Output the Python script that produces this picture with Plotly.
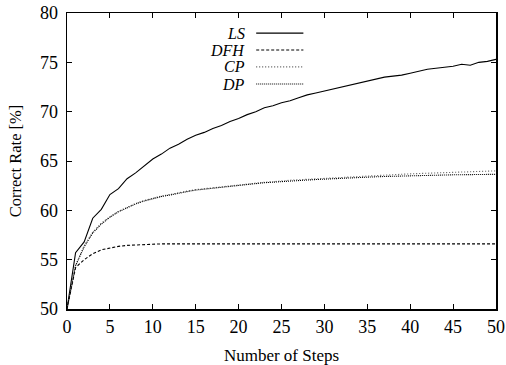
import plotly.graph_objects as go

steps = list(range(0, 51))
ls = [50.0, 55.7, 56.8, 59.2, 60.1, 61.6, 62.2, 63.2, 63.8, 64.5,
      65.2, 65.7, 66.3, 66.7, 67.2, 67.6, 67.9, 68.3, 68.6, 69.0,
      69.3, 69.7, 70.0, 70.4, 70.6, 70.9, 71.1, 71.4, 71.7, 71.9,
      72.1, 72.3, 72.5, 72.7, 72.9, 73.1, 73.3, 73.5, 73.6, 73.7,
      73.9, 74.1, 74.3, 74.4, 74.5, 74.6, 74.8, 74.7, 75.0, 75.1, 75.3]
dfh = [50.0, 54.2, 55.0, 55.6, 56.0, 56.2, 56.35, 56.45, 56.5, 56.55,
       56.58, 56.6, 56.6, 56.6, 56.6, 56.6, 56.6, 56.6, 56.6, 56.6,
       56.6, 56.6, 56.6, 56.6, 56.6, 56.6, 56.6, 56.6, 56.6, 56.6,
       56.6, 56.6, 56.6, 56.6, 56.6, 56.6, 56.6, 56.6, 56.6, 56.6,
       56.6, 56.6, 56.6, 56.6, 56.6, 56.6, 56.6, 56.6, 56.6, 56.6, 56.6]
cp = [50.0, 54.4, 56.4, 57.8, 58.7, 59.35, 59.9, 60.3, 60.7, 61.0,
      61.25, 61.45, 61.6, 61.8, 61.95, 62.1, 62.2, 62.3, 62.4, 62.5,
      62.6, 62.7, 62.75, 62.85, 62.9, 63.0, 63.05, 63.1, 63.15, 63.2,
      63.25, 63.3, 63.35, 63.4, 63.45, 63.5, 63.55, 63.6, 63.63, 63.67,
      63.7, 63.73, 63.76, 63.79, 63.82, 63.85, 63.88, 63.91, 63.94, 63.97, 64.0]
dp = [50.0, 54.4, 56.3, 57.7, 58.6, 59.3, 59.85, 60.25, 60.65, 60.95,
      61.2, 61.4, 61.55, 61.75, 61.9, 62.05, 62.15, 62.25, 62.35, 62.45,
      62.55, 62.65, 62.7, 62.8, 62.85, 62.92, 62.97, 63.02, 63.07, 63.12,
      63.17, 63.21, 63.25, 63.29, 63.33, 63.37, 63.4, 63.43, 63.46, 63.48,
      63.5, 63.52, 63.54, 63.56, 63.58, 63.6, 63.61, 63.62, 63.63, 63.64, 63.65]

series_names = ["LS", "DFH", "CP", "DP"]
series_data = [ls, dfh, cp, dp]
dashes = ["solid", "3px,2px", "1px,2px", "1px,1px"]
colors = ["#000000", "#000000", "#555555", "#000000"]

x_ticks = [0, 5, 10, 15, 20, 25, 30, 35, 40, 45, 50]
y_ticks = [50, 55, 60, 65, 70, 75, 80]

FONT = "Liberation Serif, Times New Roman, serif"

fig = go.Figure()
for name, ys, d, c in zip(series_names, series_data, dashes, colors):
    fig.add_trace(go.Scatter(x=steps, y=ys, mode="lines", name=name,
                             line=dict(color=c, width=1.1, dash=d),
                             showlegend=False, hoverinfo="skip"))

# legend drawn manually (text on left, sample line on right)
leg_y = [0.932, 0.875, 0.818, 0.760]
for name, yy, d, c in zip(series_names, leg_y, dashes, colors):
    fig.add_annotation(x=0.42, y=yy, xref="paper", yref="paper",
                       text="<i>%s</i>" % name, showarrow=False,
                       xanchor="right", yanchor="middle",
                       font=dict(family=FONT, size=16, color="black"))
    fig.add_shape(type="line", xref="paper", yref="paper",
                  x0=0.441, x1=0.551, y0=yy, y1=yy,
                  line=dict(color=c, width=1.1, dash=d))

axis_common = dict(showline=True, linecolor="black", linewidth=1.5, mirror="ticks",
                   ticks="inside", ticklen=5, tickwidth=1, tickcolor="black",
                   showgrid=False, zeroline=False, automargin=False,
                   tickfont=dict(family=FONT, size=18, color="black"))

fig.update_xaxes(range=[0, 50], tickvals=x_ticks, ticklabelstandoff=1,
                 title=dict(text="Number of Steps", font=dict(family=FONT, size=17, color="black"),
                            standoff=18),
                 **axis_common)
fig.update_yaxes(range=[50, 80], tickvals=y_ticks, ticklabelstandoff=4,
                 title=dict(text="Correct Rate [%]", font=dict(family=FONT, size=16.5, color="black"),
                            standoff=14),
                 **axis_common)

fig.update_layout(width=506, height=365,
                  margin=dict(l=67, r=10, t=13, b=56),
                  plot_bgcolor="white", paper_bgcolor="white",
                  font=dict(family=FONT, color="black"))

fig.write_html("out.html",
               config={"displayModeBar": False, "staticPlot": True},
               post_script="document.body.style.margin='0';"
                           "document.body.style.overflow='hidden';")
